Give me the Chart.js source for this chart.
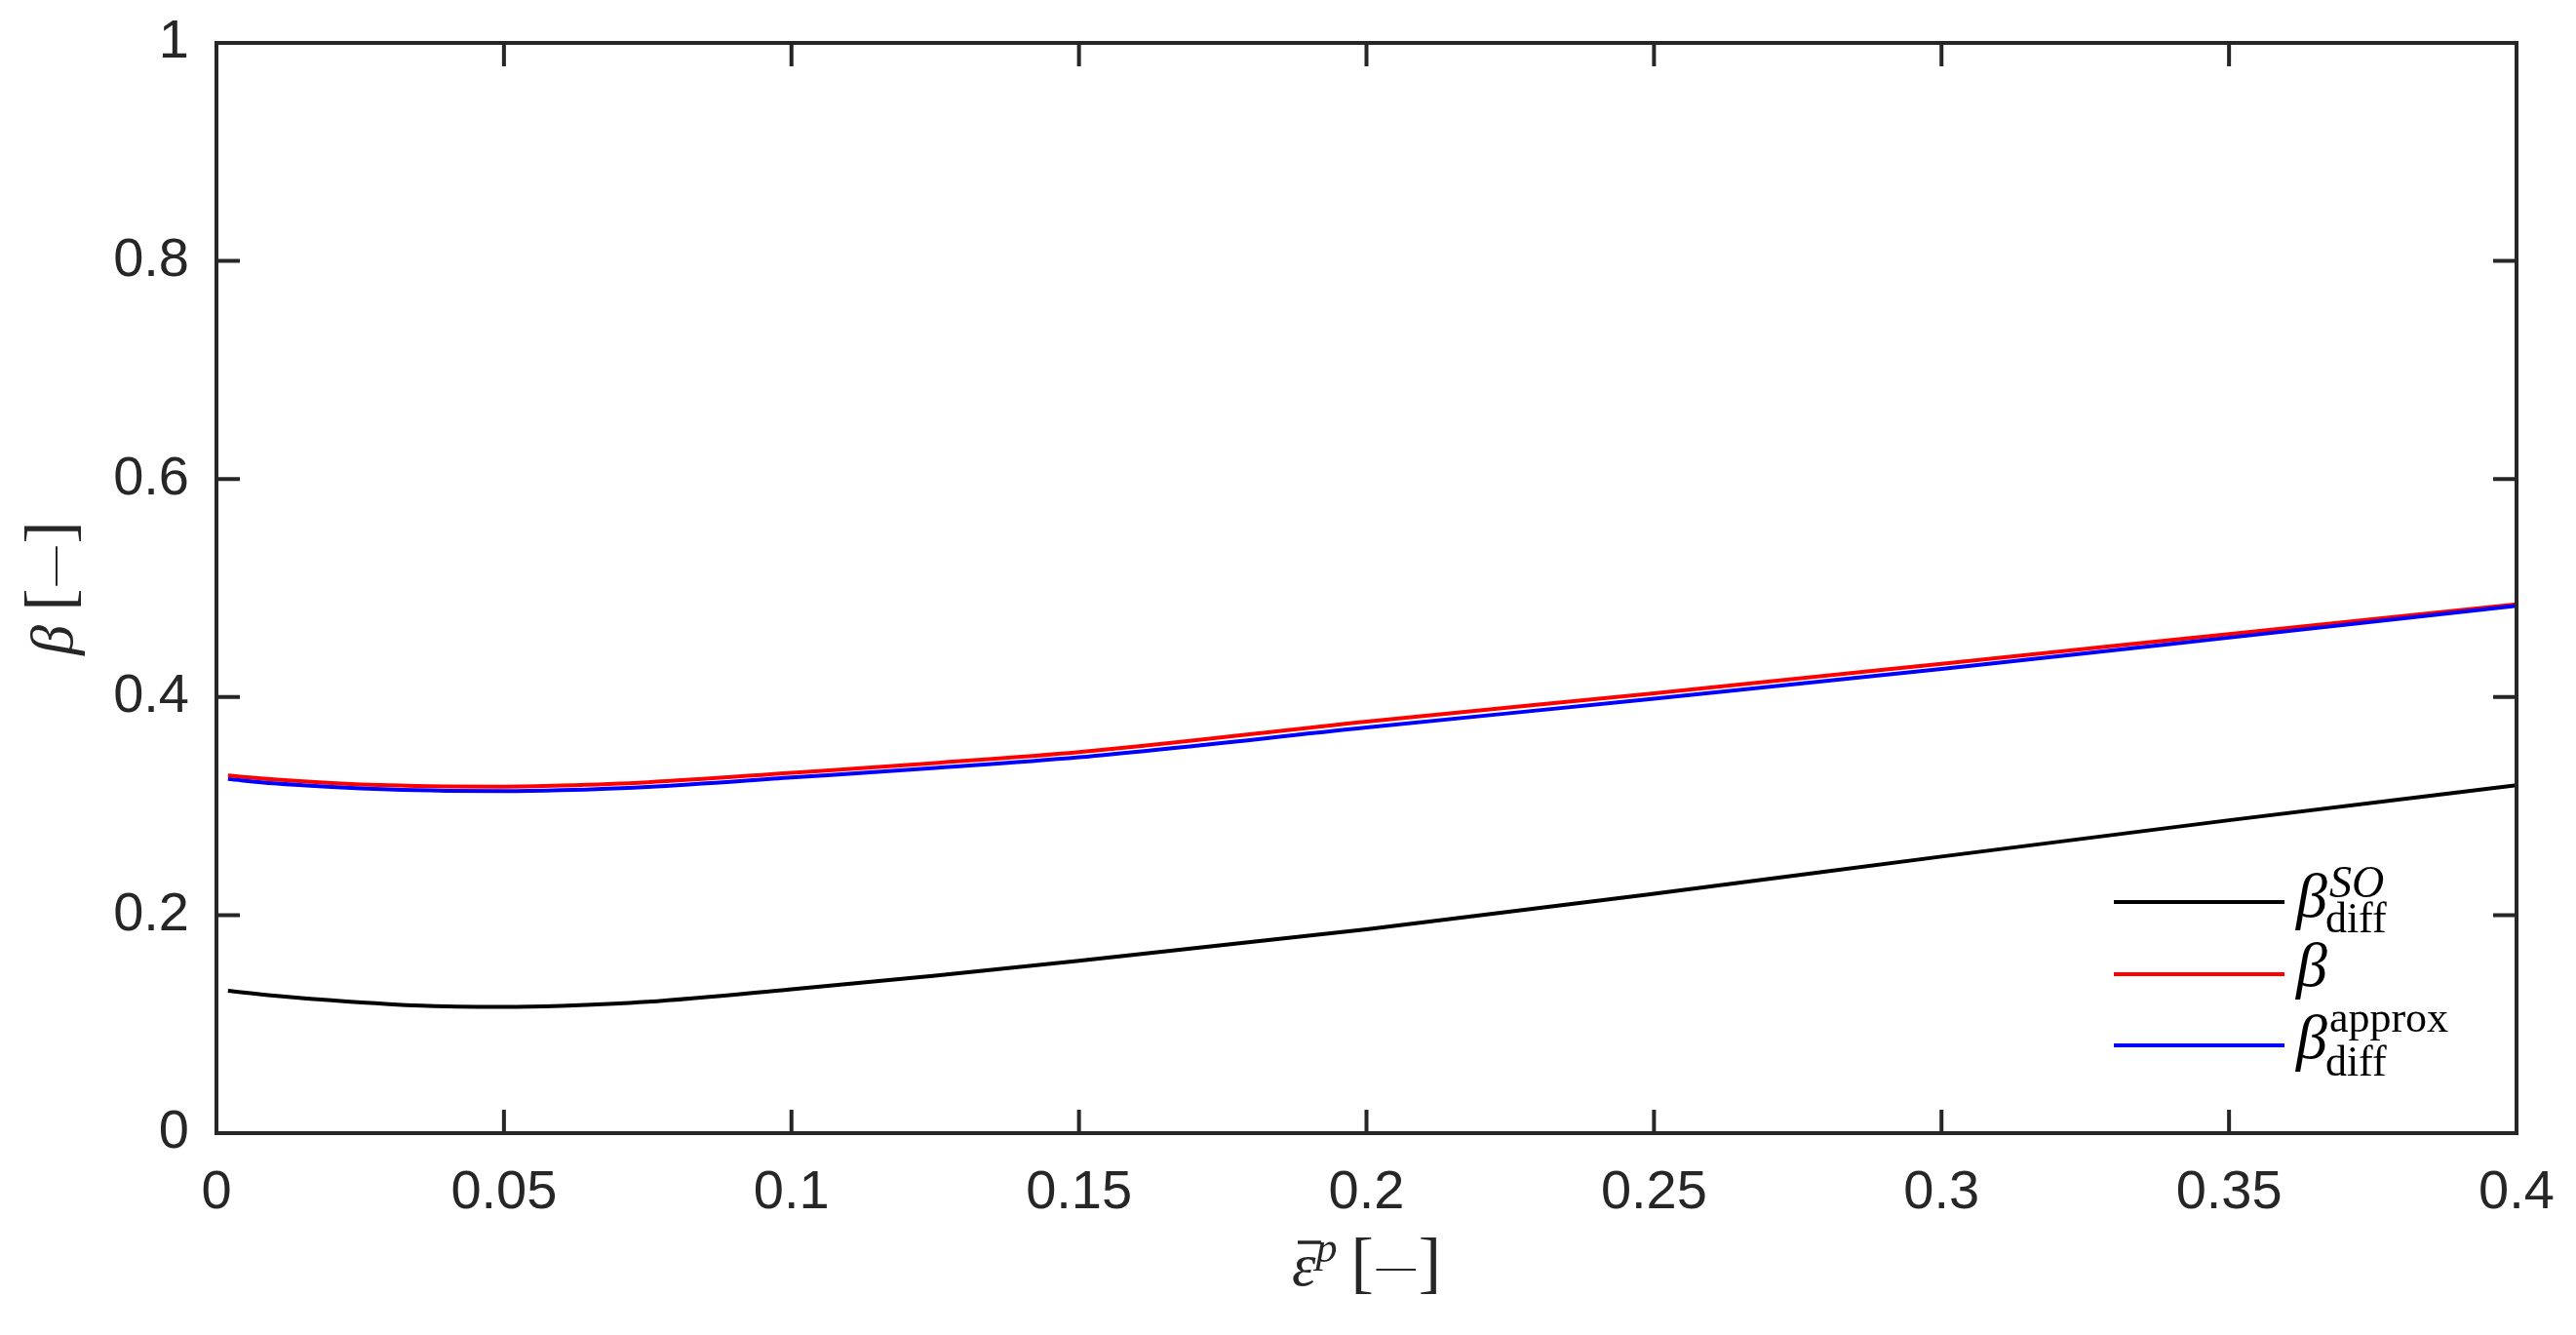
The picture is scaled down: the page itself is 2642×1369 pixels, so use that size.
<!DOCTYPE html>
<html><head><meta charset="utf-8">
<script src="https://cdn.jsdelivr.net/npm/chart.js@4.4.1/dist/chart.umd.min.js"></script>
<style>html,body{margin:0;padding:0;background:#fff;overflow:hidden}</style>
</head><body>
<canvas id="c" width="2642" height="1369"></canvas>
<script>
// ---- data ----
const strain = [0.002, 0.01, 0.02, 0.03, 0.04, 0.05, 0.06, 0.075, 0.1, 0.125, 0.15, 0.2, 0.25, 0.3, 0.35, 0.4];
const betaSO = [0.1306, 0.1262, 0.1218, 0.1184, 0.1162, 0.1158, 0.1168, 0.1205, 0.132, 0.1445, 0.158, 0.187, 0.2195, 0.2537, 0.287, 0.319];
const beta = [0.328, 0.3245, 0.3212, 0.319, 0.318, 0.3178, 0.3188, 0.3218, 0.3305, 0.3395, 0.3495, 0.3775, 0.4035, 0.4305, 0.4578, 0.485];
const betaApprox = [0.3248, 0.3208, 0.3175, 0.3152, 0.314, 0.3137, 0.3146, 0.3176, 0.3262, 0.335, 0.3448, 0.372, 0.3985, 0.4258, 0.4545, 0.4836];
const xTicks = [0, 0.05, 0.1, 0.15, 0.2, 0.25, 0.3, 0.35, 0.4];
const xTickLabels = ['0', '0.05', '0.1', '0.15', '0.2', '0.25', '0.3', '0.35', '0.4'];
const yTicks = [0, 0.2, 0.4, 0.6, 0.8, 1];
const yTickLabels = ['0', '0.2', '0.4', '0.6', '0.8', '1'];

const AXC = '#262626';
const SERIF = '"Liberation Serif", "DejaVu Serif", serif';
const SANS = '"Liberation Sans", Arial, sans-serif';

function pts(ys) { return strain.map((x, i) => ({x: x, y: ys[i]})); }

function drawRuns(ctx, runs, x, y) {
  let cx = x;
  for (const r of runs) {
    ctx.font = r.font;
    const w = ctx.measureText(r.t).width;
    ctx.fillText(r.t, cx + (r.dx || 0), y + (r.dy || 0));
    if (r.bar) {
      ctx.save();
      ctx.lineWidth = 3.5;
      ctx.beginPath();
      ctx.moveTo(cx + r.bar[0], y + r.bar[2]);
      ctx.lineTo(cx + r.bar[1], y + r.bar[2]);
      ctx.stroke();
      ctx.restore();
    }
    cx += w + (r.dx || 0) + (r.after || 0);
  }
  return cx - x;
}
function runsWidth(ctx, runs) {
  let w = 0;
  for (const r of runs) { ctx.font = r.font; w += ctx.measureText(r.t).width + (r.dx || 0) + (r.after || 0); }
  return w;
}

const framePlugin = {
  id: 'frame',
  afterDatasetsDraw(chart) {
    const ctx = chart.ctx, a = chart.chartArea;
    const sx = chart.scales.x, sy = chart.scales.y;
    ctx.save();
    ctx.strokeStyle = AXC;
    ctx.lineWidth = 4;
    ctx.strokeRect(a.left, a.top, a.right - a.left, a.bottom - a.top);
    const TL = 24;
    ctx.beginPath();
    for (const v of xTicks) {
      const px = sx.getPixelForValue(v);
      ctx.moveTo(px, a.bottom); ctx.lineTo(px, a.bottom - TL);
      ctx.moveTo(px, a.top); ctx.lineTo(px, a.top + TL);
    }
    for (const v of yTicks) {
      const py = sy.getPixelForValue(v);
      ctx.moveTo(a.left, py); ctx.lineTo(a.left + TL, py);
      ctx.moveTo(a.right, py); ctx.lineTo(a.right - TL, py);
    }
    ctx.stroke();

    // axis titles
    ctx.fillStyle = AXC;
    ctx.strokeStyle = AXC;
    ctx.textBaseline = 'alphabetic';
    ctx.textAlign = 'left';
    const xRuns = [
      {t: 'ε', font: 'italic 62px ' + SERIF, bar: [6, 30, -44]},
      {t: 'p', font: 'italic 44px ' + SERIF, dy: -24, after: 14},
      {t: '[', font: '70px ' + SERIF},
      {t: '\u2014', font: '40px ' + SERIF, dx: 3, dy: -7, after: 3},
      {t: ']', font: '70px ' + SERIF}
    ];
    const xw = runsWidth(ctx, xRuns);
    drawRuns(ctx, xRuns, (a.left + a.right) / 2 - xw / 2, 1318);

    const yRuns = [
      {t: 'β', font: 'italic 62px ' + SERIF, after: 14},
      {t: '[', font: '70px ' + SERIF},
      {t: '\u2014', font: '40px ' + SERIF, dx: 3, dy: -7, after: 3},
      {t: ']', font: '70px ' + SERIF}
    ];
    const yw = runsWidth(ctx, yRuns);
    ctx.save();
    ctx.translate(74, (a.top + a.bottom) / 2);
    ctx.rotate(-Math.PI / 2);
    drawRuns(ctx, yRuns, -yw / 2, 0);
    ctx.restore();

    // legend
    const entries = [
      {color: '#000000', ly: a.bottom - 237, base: a.bottom - 222, sup: 'SO', supFont: 'italic 46px ' + SERIF, supDy: -20, sub: 'diff', subDy: 16},
      {color: '#FF0000', ly: a.bottom - 163, base: a.bottom - 151},
      {color: '#0000FF', ly: a.bottom - 90, base: a.bottom - 77, sup: 'approx', supFont: '44px ' + SERIF, supDy: -27, sub: 'diff', subDy: 18}
    ];
    for (const e of entries) {
      ctx.strokeStyle = e.color;
      ctx.lineWidth = 4;
      ctx.beginPath();
      ctx.moveTo(a.right - 413, e.ly);
      ctx.lineTo(a.right - 238, e.ly);
      ctx.stroke();
      ctx.fillStyle = '#000';
      const tx = a.right - 226;
      ctx.font = 'italic 64px ' + SERIF;
      ctx.fillText('β', tx, e.base);
      const bw = ctx.measureText('β').width;
      if (e.sup) {
        ctx.font = e.supFont;
        ctx.fillText(e.sup, tx + bw + 2, e.base + e.supDy);
      }
      if (e.sub) {
        ctx.font = '44px ' + SERIF;
        ctx.fillText(e.sub, tx + bw - 2, e.base + e.subDy);
      }
    }
    ctx.restore();
  }
};

const tickFont = {family: SANS, size: 56};

function zeroPad(s) { s.paddingTop = 0; s.paddingBottom = 0; s.paddingLeft = 0; s.paddingRight = 0; }

new Chart(document.getElementById('c'), {
  type: 'line',
  data: {
    datasets: [
      {label: 'beta_diff^SO', data: pts(betaSO), borderColor: '#000000', order: 2},
      {label: 'beta', data: pts(beta), borderColor: '#FF0000', order: 1},
      {label: 'beta_diff^approx', data: pts(betaApprox), borderColor: '#0000FF', order: 0}
    ]
  },
  options: {
    responsive: false,
    animation: false,
    devicePixelRatio: 1,
    layout: {padding: {left: 0, top: 44, right: 61, bottom: 0}},
    elements: {
      line: {borderWidth: 4, cubicInterpolationMode: 'monotone', fill: false},
      point: {radius: 0, hoverRadius: 0}
    },
    plugins: {legend: {display: false}, tooltip: {enabled: false}},
    scales: {
      x: {
        type: 'linear', min: 0, max: 0.4,
        afterBuildTicks: s => { s.ticks = xTicks.map(v => ({value: v})); },
        afterFit: s => { s.height = 207; zeroPad(s); },
        grid: {display: false, drawTicks: false},
        border: {display: false},
        ticks: {
          font: tickFont, color: AXC, padding: 28, maxRotation: 0, autoSkip: false,
          callback: (v) => xTickLabels[xTicks.indexOf(v)]
        }
      },
      y: {
        type: 'linear', min: 0, max: 1,
        afterBuildTicks: s => { s.ticks = yTicks.map(v => ({value: v})); },
        afterFit: s => { s.width = 222; zeroPad(s); },
        grid: {display: false, drawTicks: false},
        border: {display: false},
        ticks: {
          font: tickFont, color: AXC, padding: 28, autoSkip: false,
          callback: (v) => yTickLabels[yTicks.indexOf(v)]
        }
      }
    }
  },
  plugins: [framePlugin]
});
</script>
</body></html>
